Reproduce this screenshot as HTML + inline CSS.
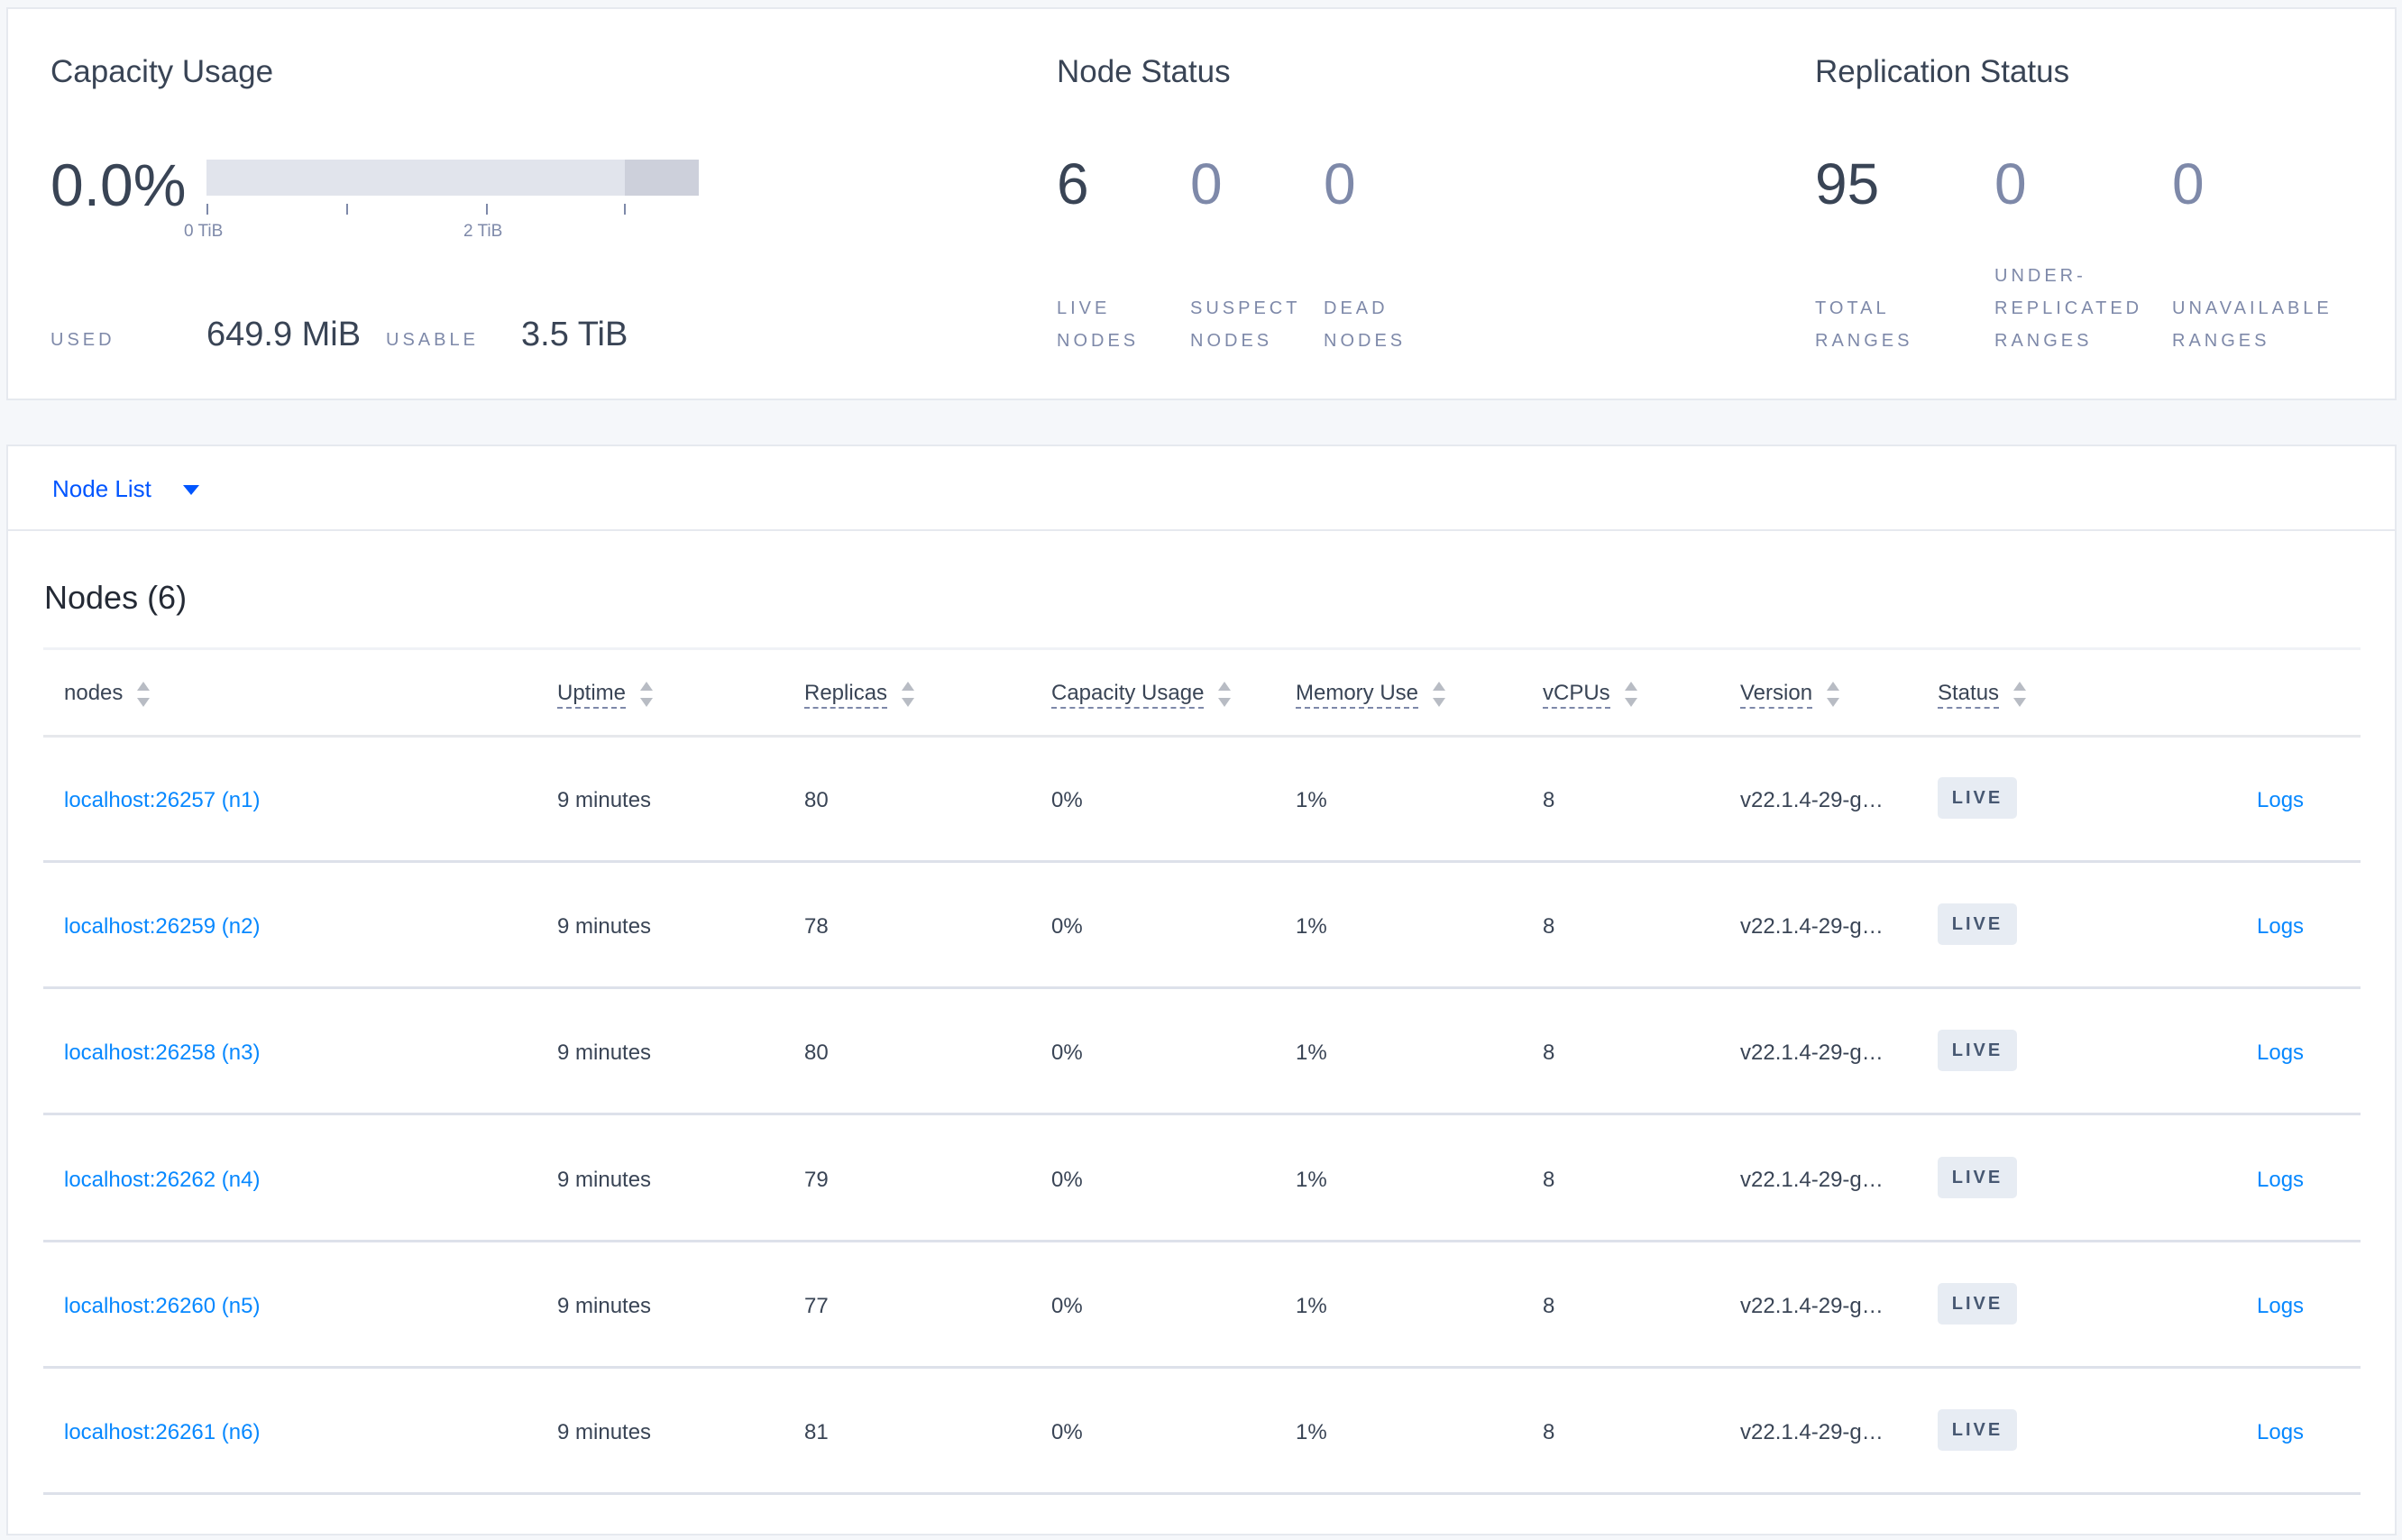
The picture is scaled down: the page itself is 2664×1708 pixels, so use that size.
<!DOCTYPE html>
<html><head><meta charset="utf-8"><style>
*{margin:0;padding:0;box-sizing:border-box}
body{width:2664px;height:1708px;background:#f5f7fa;font-family:"Liberation Sans",sans-serif;position:relative;overflow:hidden;color:#394455}
.a{position:absolute;white-space:nowrap}
.card{position:absolute;background:#fff;border:2px solid #e6e9ef}
.t{font-size:35px;color:#394455}
.big{font-size:64px;line-height:1}
.lbl{font-size:20px;letter-spacing:4px;color:#7e89a9;line-height:36px}
.hd{font-size:24px;color:#394455;top:755px}
.hd u{text-decoration:none;border-bottom:2px dashed #7e89a9;padding-bottom:2px}
.sa{display:inline-block;vertical-align:middle;margin-left:16px;width:14px;height:28px;position:relative}
.sa:before{content:"";position:absolute;left:0;top:0;border-left:7px solid transparent;border-right:7px solid transparent;border-bottom:10px solid #b8bcc4}
.sa:after{content:"";position:absolute;left:0;bottom:0;border-left:7px solid transparent;border-right:7px solid transparent;border-top:10px solid #b8bcc4}
.line{position:absolute;left:48px;width:2570px;height:3px;background:#dde1ea}
.c{font-size:24px;color:#394455}
.lnk{color:#0788ff}
.badge{position:absolute;width:88px;height:46px;background:#e7ecf3;border-radius:5px;font-size:20px;font-weight:bold;letter-spacing:3px;color:#475872;text-align:center;line-height:46px}
</style></head><body>
<div class="card" style="left:7px;top:8px;width:2651px;height:436px"></div>
<div class="a t" style="left:56px;top:60px">Capacity Usage</div>
<div class="a t" style="left:1172px;top:60px">Node Status</div>
<div class="a t" style="left:2013px;top:60px">Replication Status</div>
<div class="a big" style="left:56px;top:172px;font-size:66px">0.0%</div>
<div class="a" style="left:229px;top:177px;width:546px;height:40px;background:#e1e4ec"></div>
<div class="a" style="left:693px;top:177px;width:82px;height:40px;background:#cdd0db"></div>
<div class="a" style="left:229px;top:226px;width:2px;height:12px;background:#7e89a9"></div>
<div class="a" style="left:384px;top:226px;width:2px;height:12px;background:#7e89a9"></div>
<div class="a" style="left:539px;top:226px;width:2px;height:12px;background:#7e89a9"></div>
<div class="a" style="left:692px;top:226px;width:2px;height:12px;background:#7e89a9"></div>
<div class="a" style="left:204px;top:246px;font-size:19px;color:#7e89a9">0 TiB</div>
<div class="a" style="left:514px;top:246px;font-size:19px;color:#7e89a9">2 TiB</div>
<div class="a lbl" style="left:56px;top:359px">USED</div>
<div class="a" style="left:229px;top:350px;font-size:38px">649.9 MiB</div>
<div class="a lbl" style="left:428px;top:359px">USABLE</div>
<div class="a" style="left:578px;top:350px;font-size:38px">3.5 TiB</div>
<div class="a big" style="left:1172px;top:172px">6</div>
<div class="a big" style="left:1320px;top:172px;color:#7e89a9">0</div>
<div class="a big" style="left:1468px;top:172px;color:#7e89a9">0</div>
<div class="a lbl" style="left:1172px;top:324px">LIVE<br>NODES</div>
<div class="a lbl" style="left:1320px;top:324px">SUSPECT<br>NODES</div>
<div class="a lbl" style="left:1468px;top:324px">DEAD<br>NODES</div>
<div class="a big" style="left:2013px;top:172px">95</div>
<div class="a big" style="left:2212px;top:172px;color:#7e89a9">0</div>
<div class="a big" style="left:2409px;top:172px;color:#7e89a9">0</div>
<div class="a lbl" style="left:2013px;top:324px">TOTAL<br>RANGES</div>
<div class="a lbl" style="left:2212px;top:288px">UNDER-<br>REPLICATED<br>RANGES</div>
<div class="a lbl" style="left:2409px;top:324px">UNAVAILABLE<br>RANGES</div>

<div class="card" style="left:7px;top:493px;width:2651px;height:1210px"></div>
<div class="a" style="left:7px;top:587px;width:2651px;height:2px;background:#e6e9ef"></div>
<div class="a" style="left:58px;top:527px;font-size:26px;color:#0055ff">Node List</div>
<div class="a" style="left:203px;top:538px;border-left:9px solid transparent;border-right:9px solid transparent;border-top:11px solid #0055ff"></div>
<div class="a" style="left:49px;top:642px;font-size:36px;color:#242a35">Nodes (6)</div>
<div class="line" style="top:718px;background:#f0f2f6"></div>
<div class="a hd" style="left:71px">nodes<span class="sa"></span></div>
<div class="a hd" style="left:618px"><u>Uptime</u><span class="sa"></span></div>
<div class="a hd" style="left:892px"><u>Replicas</u><span class="sa"></span></div>
<div class="a hd" style="left:1166px"><u>Capacity Usage</u><span class="sa"></span></div>
<div class="a hd" style="left:1437px"><u>Memory Use</u><span class="sa"></span></div>
<div class="a hd" style="left:1711px"><u>vCPUs</u><span class="sa"></span></div>
<div class="a hd" style="left:1930px"><u>Version</u><span class="sa"></span></div>
<div class="a hd" style="left:2149px"><u>Status</u><span class="sa"></span></div>
<div class="line" style="top:815px;background:#e6e8ec"></div>

<div id="rows"></div>
<script>
var d=[["26257","n1","80"],["26259","n2","78"],["26258","n3","80"],["26262","n4","79"],["26260","n5","77"],["26261","n6","81"]];
var h="";
d.forEach(function(r,i){var y=885+i*140.2;var t=y-11;
h+='<div class="a c lnk" style="left:71px;top:'+t+'px">localhost:'+r[0]+' ('+r[1]+')</div>';
h+='<div class="a c" style="left:618px;top:'+t+'px">9 minutes</div>';
h+='<div class="a c" style="left:892px;top:'+t+'px">'+r[2]+'</div>';
h+='<div class="a c" style="left:1166px;top:'+t+'px">0%</div>';
h+='<div class="a c" style="left:1437px;top:'+t+'px">1%</div>';
h+='<div class="a c" style="left:1711px;top:'+t+'px">8</div>';
h+='<div class="a c" style="left:1930px;top:'+t+'px">v22.1.4-29-g…</div>';
h+='<div class="badge" style="left:2149px;top:'+(y-23)+'px">LIVE</div>';
h+='<div class="a c lnk" style="left:2503px;top:'+t+'px">Logs</div>';
h+='<div class="line" style="top:'+(y+69)+'px"></div>';});
document.getElementById("rows").innerHTML=h;
</script>
</body></html>
